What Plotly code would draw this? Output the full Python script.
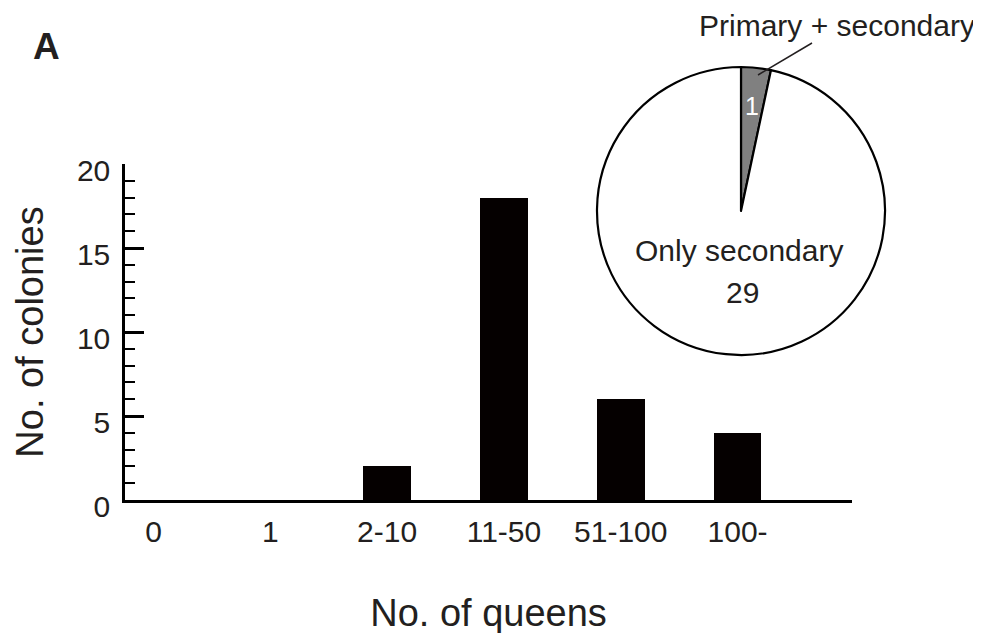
import plotly.graph_objects as go

# ---- data ----
queen_classes = ["0", "1", "2-10", "11-50", "51-100", "100-"]
colony_counts = [0, 0, 2, 18, 6, 4]

pie_labels = ["Primary + secondary", "Only secondary"]
pie_values = [1, 29]
pie_colors = ["#808080", "#ffffff"]

y_ticks = [0, 5, 10, 15, 20]

W, H = 981, 633
OFF = 8  # page body margin
FONT = "Liberation Sans, Arial, Helvetica, sans-serif"
TXT = "#231f20"

def px(x):
    return (x - OFF) / W

def py(y):
    return 1 - (y - OFF) / H

fig = go.Figure()

fig.add_trace(go.Bar(
    x=queen_classes, y=colony_counts,
    marker=dict(color="#050000", line=dict(width=0)),
    width=0.41, showlegend=False, hoverinfo="x+y",
))

# pie inset
cx, cy, r = 741, 211, 144
fig.add_trace(go.Pie(
    labels=pie_labels, values=pie_values, sort=False,
    direction="clockwise", rotation=0,
    marker=dict(colors=pie_colors, line=dict(color="#000000", width=2.2)),
    textinfo="none", showlegend=False, hoverinfo="label+value",
    domain=dict(x=[px(cx - r), px(cx + r)], y=[py(cy + r), py(cy - r)]),
))

annotations = [
    dict(text="<b>A</b>", x=px(46), y=py(46), xref="paper", yref="paper",
         showarrow=False, xanchor="center", yanchor="middle",
         font=dict(size=37, color=TXT, family=FONT)),
    dict(text=pie_labels[0], x=px(977), y=py(26), xref="paper", yref="paper",
         showarrow=False, xanchor="right", yanchor="middle",
         font=dict(size=30, color=TXT, family=FONT)),
    dict(text=str(pie_values[0]), x=px(752), y=py(106), xref="paper", yref="paper",
         showarrow=False, xanchor="center", yanchor="middle",
         font=dict(size=25, color="#ffffff", family=FONT)),
    dict(text=pie_labels[1], x=px(739), y=py(250), xref="paper", yref="paper",
         showarrow=False, xanchor="center", yanchor="middle",
         font=dict(size=30, color=TXT, family=FONT)),
    dict(text=str(pie_values[1]), x=px(742), y=py(292), xref="paper", yref="paper",
         showarrow=False, xanchor="center", yanchor="middle",
         font=dict(size=30, color=TXT, family=FONT)),
]

shapes = [
    dict(type="line", xref="paper", yref="paper",
         x0=px(758), y0=py(75), x1=px(812), y1=py(43),
         line=dict(color="#231f20", width=1.5)),
]

fig.update_layout(
    width=W, height=H,
    margin=dict(l=0, r=0, t=0, b=0, pad=0, autoexpand=False),
    paper_bgcolor="white", plot_bgcolor="white",
    font=dict(family=FONT, color=TXT),
    bargap=0,
    annotations=annotations,
    shapes=shapes,
    xaxis=dict(
        domain=[px(125), px(852)],
        range=[-0.244, 5.98],
        automargin=False,
        showline=True, linecolor="#000000", linewidth=2.5,
        ticks="", showgrid=False, zeroline=False,
        tickfont=dict(size=30, color=TXT, family=FONT),
        ticklabelstandoff=3,
        title=dict(text="No. of queens", font=dict(size=38, color=TXT, family=FONT),
                   standoff=53),
        fixedrange=True,
    ),
    yaxis=dict(
        domain=[py(500), py(164)],
        range=[0, 20],
        automargin=False,
        tickvals=y_ticks,
        showline=True, linecolor="#000000", linewidth=2.5,
        ticks="inside", ticklen=19, tickwidth=2.5, tickcolor="#000000",
        minor=dict(dtick=1, ticks="inside", ticklen=10, tickwidth=2, tickcolor="#000000"),
        showgrid=False, zeroline=False,
        tickfont=dict(size=30, color=TXT, family=FONT),
        ticklabelstandoff=6,
        ticklabelshift=6,
        title=dict(text="No. of colonies", font=dict(size=38, color=TXT, family=FONT),
                   standoff=22),
        fixedrange=True,
    ),
)

fig.write_html("out.html")
